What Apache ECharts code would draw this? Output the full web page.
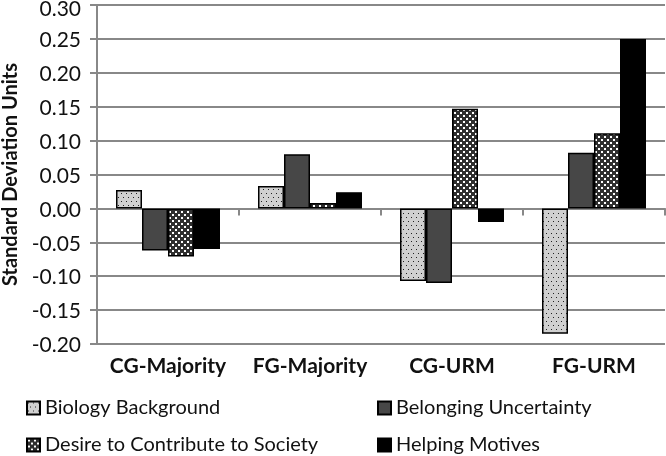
<!DOCTYPE html>
<html>
<head>
<meta charset="utf-8">
<script src="https://cdn.jsdelivr.net/npm/echarts@6/dist/echarts.min.js"></script>
<style>
html,body{margin:0;padding:0;background:#fff;}
#c{width:666px;height:456px;}
</style>
</head>
<body>
<div id="c"></div>
<script>
var categories = ['CG-Majority', 'FG-Majority', 'CG-URM', 'FG-URM'];
var seriesNames = ['Biology Background', 'Belonging Uncertainty', 'Desire to Contribute to Society', 'Helping Motives'];
var biology = [0.027, 0.033, -0.107, -0.185];
var belonging = [-0.062, 0.080, -0.110, 0.082];
var desire = [-0.071, 0.008, 0.147, 0.111];
var helping = [-0.060, 0.024, -0.020, 0.250];
var yMin = -0.2, yMax = 0.3, yStep = 0.05;

function makePattern(bg, fg, w, h, dots, s) {
  var cv = document.createElement('canvas');
  cv.width = w; cv.height = h;
  var ctx = cv.getContext('2d');
  ctx.fillStyle = bg; ctx.fillRect(0, 0, w, h);
  ctx.fillStyle = fg;
  dots.forEach(function (d) { ctx.fillRect(d[0], d[1], s, s); });
  return { image: cv, repeat: 'repeat' };
}
var bioFill = makePattern('#d0d0d0', '#222', 5, 8, [[1, 1], [3, 5]], 1);
var desireFill = makePattern('#2f2f2f', '#fff', 6, 6, [[1, 1], [4, 4]], 2);
var fills = [bioFill, '#474747', desireFill, '#000'];
var values = [biology, belonging, desire, helping];

var chart = echarts.init(document.getElementById('c'), null, { renderer: 'canvas' });
var FONT = 'Lato';
var series = seriesNames.map(function (n, i) {
  return {
    name: n, type: 'bar', data: values[i], barWidth: 26, barGap: '0%',
    itemStyle: { color: fills[i], borderColor: '#000', borderWidth: 1.5 },
    emphasis: { disabled: true }
  };
});
var legendPos = [[26, 398], [377, 398], [26, 435], [377, 435]];
var legends = seriesNames.map(function (n, i) {
  return {
    data: [n], left: legendPos[i][0], top: legendPos[i][1], padding: 0,
    itemWidth: 13, itemHeight: 13, itemGap: 4,
    icon: 'rect',
    textStyle: { fontFamily: FONT, fontSize: 20, color: '#111' },
    selectedMode: false
  };
});
chart.setOption({
  animation: false,
  textStyle: { fontFamily: FONT },
  grid: { left: 97, right: 1, top: 5, bottom: 112, containLabel: false, outerBoundsMode: 'none' },
  legend: legends,
  xAxis: [{
    type: 'category', data: categories,
    axisLine: { onZero: true, lineStyle: { color: '#888', width: 2 } },
    axisTick: { show: true, length: 7, lineStyle: { color: '#888', width: 2 } },
    axisLabel: { show: false },
    splitLine: { show: false }
  }, {
    type: 'category', data: categories, position: 'bottom',
    axisLine: { show: false, onZero: false },
    axisTick: { show: false },
    axisLabel: { interval: 0, fontFamily: FONT, fontSize: 21, fontWeight: 'bold', color: '#111', margin: 12 }
  }],
  yAxis: {
    type: 'value', min: yMin, max: yMax, interval: yStep,
    name: 'Standard Deviation Units', nameLocation: 'middle', nameGap: 74,
    nameTextStyle: { fontFamily: FONT, fontSize: 20, fontWeight: 'bold', color: '#111' },
    axisLine: { show: true, lineStyle: { color: '#888', width: 2 } },
    axisTick: { show: true, length: 7, lineStyle: { color: '#888', width: 2 } },
    axisLabel: { fontFamily: FONT, fontSize: 21, color: '#111', margin: 16,
      formatter: function (v) {
        var s = v.toFixed(2);
        return Math.abs(v - yMax) < 1e-9 ? '{t|' + s + '}' : '{n|' + s + '}';
      },
      rich: {
        t: { fontFamily: FONT, fontSize: 21, color: '#111', padding: [8, 0, 0, 0] },
        n: { fontFamily: FONT, fontSize: 21, color: '#111', padding: [3, 0, 0, 0] }
      }
    },
    splitLine: { lineStyle: { color: '#888', width: 2 } }
  },
  series: series
});
</script>
</body>
</html>
